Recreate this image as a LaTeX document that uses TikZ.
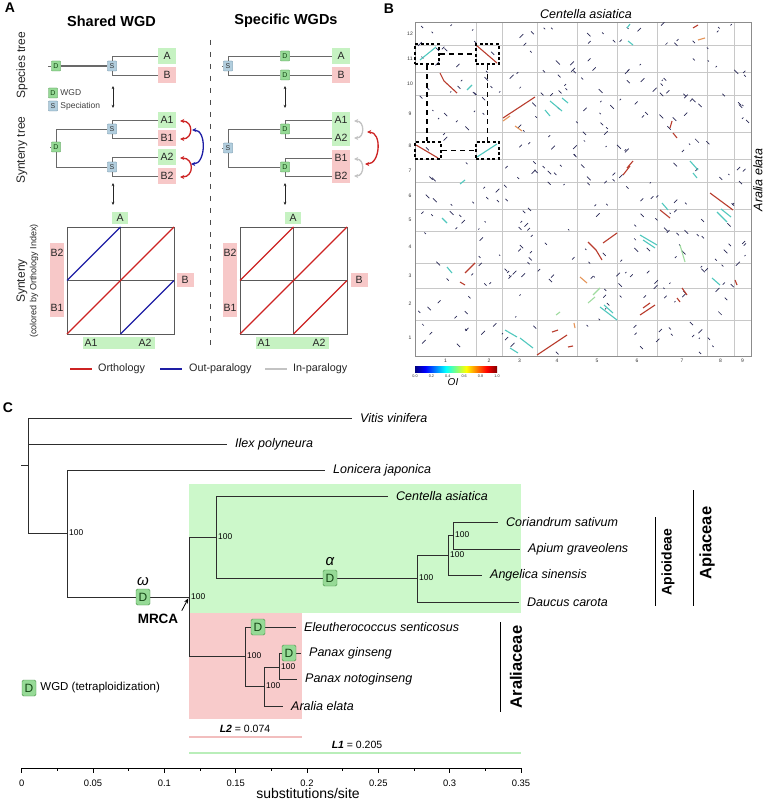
\documentclass[tikz,border=0pt]{standalone}
\usepackage{fontspec}
\setmainfont{Liberation Sans}
\usetikzlibrary{arrows.meta,calc}
\newcommand\fsz[1]{\fontsize{#1}{#1}\selectfont}
\definecolor{gbox}{RGB}{198,242,194}
\definecolor{pbox}{RGB}{247,200,200}
\definecolor{dfill}{RGB}{150,218,150}
\definecolor{dline}{RGB}{70,145,70}
\definecolor{dtext}{RGB}{20,70,20}
\definecolor{sfill}{RGB}{178,206,222}
\definecolor{sline}{RGB}{90,130,155}
\definecolor{trA}{RGB}{105,105,105}
\definecolor{trC}{RGB}{45,45,45}
\definecolor{ortho}{RGB}{205,35,35}
\definecolor{outp}{RGB}{30,30,165}
\definecolor{inp}{RGB}{195,195,195}
\definecolor{greg}{RGB}{204,248,202}
\definecolor{preg}{RGB}{248,203,203}
\definecolor{l2c}{RGB}{242,190,190}
\definecolor{l1c}{RGB}{185,238,185}
\definecolor{dotc}{RGB}{40,40,85}
\definecolor{jcy}{RGB}{80,200,190}
\definecolor{jrd}{RGB}{185,60,45}
\definecolor{jor}{RGB}{230,150,90}
\definecolor{jgr}{RGB}{160,220,160}
\definecolor{gridc}{RGB}{200,200,200}
\definecolor{j0}{RGB}{0,0,128}
\definecolor{j1}{RGB}{0,0,255}
\definecolor{j2}{RGB}{0,255,255}
\definecolor{j3}{RGB}{128,255,128}
\definecolor{j4}{RGB}{255,255,0}
\definecolor{j5}{RGB}{255,0,0}
\definecolor{j6}{RGB}{128,0,0}
\pgfdeclarehorizontalshading{jetmap}{100bp}{color(0bp)=(j0); color(25bp)=(j0); color(31.25bp)=(j1); color(43.75bp)=(j2); color(50bp)=(j3); color(56.25bp)=(j4); color(68.75bp)=(j5); color(75bp)=(j6); color(100bp)=(j6)}
\begin{document}
\begin{tikzpicture}[x=1pt,y=-1pt,
  dbx/.style={draw=dline,fill=dfill,inner sep=0pt,minimum width=9pt,minimum height=10pt,font=\fsz{7},text=dtext,rounded corners=0.6pt},
  sbx/.style={draw=sline,fill=sfill,inner sep=0pt,minimum width=9pt,minimum height=10pt,font=\fsz{7},text=black!80,rounded corners=0.6pt},
  glab/.style={fill=gbox,inner sep=0pt,minimum width=18pt,minimum height=16pt,font=\fsz{10.5},text=black!85},
  plab/.style={fill=pbox,inner sep=0pt,minimum width=18pt,minimum height=16pt,font=\fsz{10.5},text=black!85},
  tlab/.style={inner sep=0pt,minimum width=18pt,minimum height=16pt,font=\fsz{10.5},text=black!85},
  ta/.style={draw=trA,line width=0.8pt},
  tc/.style={draw=trC,line width=0.9pt},
  dbl/.style={{Stealth[length=3.2pt,width=2.8pt]}-{Stealth[length=3.2pt,width=2.8pt]},line width=0.6pt,black!85},
  arcs/.style={{Stealth[length=4pt,width=4pt]}-{Stealth[length=4pt,width=4pt]},line width=1.3pt},
  rot/.style={rotate=90,text=black!85},
  spn/.style={anchor=west,inner xsep=8pt,inner ysep=1pt,font=\fsz{12.5}\itshape},
  bts/.style={anchor=west,inner sep=2pt,font=\fsz{8.4}},
  dC/.style={draw=dline,fill=dfill,rounded corners=1.5pt,minimum width=14pt,minimum height=16pt,inner sep=0pt,font=\fsz{12},text=dtext},
  dashbx/.style={draw=black,line width=2.2pt,dash pattern=on 3pt off 2.4pt,inner sep=0pt},
  dashln/.style={draw=black,line width=1.8pt,dash pattern=on 5pt off 4pt}
]
\useasboundingbox (0,0) rectangle (764,802);
\fill[white] (0,0) rectangle (764,802);

%================ PANEL A =================
\node[font=\fsz{14}\bfseries] (lA) at (10,8) {A};
\node[font=\fsz{14.5}\bfseries] (tA1) at (111.5,21) {Shared WGD};
\node[font=\fsz{14.5}\bfseries] (tA2) at (286,21) {Specific WGDs};
\coordinate (sepT) at (210,40); \coordinate (sepB) at (210,350);
\draw[black!70,line width=0.8pt,dash pattern=on 5pt off 7pt] (sepT) -- (sepB);
\node[rot,font=\fsz{12}] (rl1) at (22,65) {Species tree};
\node[rot,font=\fsz{12}] (rl2) at (22,150) {Synteny tree};
\node[rot,font=\fsz{12}] (rl3) at (22,281) {Synteny};
\node[rot,font=\fsz{9}] (rl4) at (34,281) {(colored by Orthology Index)};

% left species tree
\coordinate (st1) at (48,66);
\node[dbx] (d1) at (56,66) {D};
\node[sbx] (s1) at (112,66) {S};
\node[glab] (a1) at (167,56) {A};
\node[plab] (b1) at (167,75) {B};
\draw[ta] (st1) -- (d1);
\draw[draw=trA,line width=1.4pt] (d1) -- (s1);
\draw[ta] (s1.north) |- (a1.west);
\draw[ta] (s1.south) |- (b1.west);
\node[dbx] (lgD) at (53,93) {D};
\node[anchor=west,font=\fsz{8.5},inner sep=2.5pt,text=black!75] (lgDt) at (lgD.east) {WGD};
\node[sbx] (lgS) at (53,106) {S};
\node[anchor=west,font=\fsz{8.5},inner sep=2.5pt,text=black!75] (lgSt) at (lgS.east) {Speciation};
\coordinate (v1a) at (113,86); \coordinate (v1b) at (113,108);
\draw[dbl] (v1a) -- (v1b);

% left synteny tree
\coordinate (st2) at (50,147);
\node[dbx] (d2) at (56,147) {D};
\node[sbx] (s2) at (112,129) {S};
\node[sbx] (s3) at (112,167) {S};
\node[glab] (ga1) at (167,120) {A1};
\node[plab] (pb1) at (167,138) {B1};
\node[glab] (ga2) at (167,157) {A2};
\node[plab] (pb2) at (167,176) {B2};
\draw[ta] (st2) -- (d2);
\draw[ta] (d2.north) |- (s2.west);
\draw[ta] (d2.south) |- (s3.west);
\draw[ta] (s2.north) |- (ga1.west);
\draw[ta] (s2.south) |- (pb1.west);
\draw[ta] (s3.north) |- (ga2.west);
\draw[ta] (s3.south) |- (pb2.west);
\draw[ortho,arcs] ($(ga1.east)+(4,1)$) to[out=0,in=0,looseness=1.9] ($(pb1.east)+(4,1)$);
\draw[ortho,arcs] ($(ga2.east)+(4,1)$) to[out=0,in=0,looseness=1.9] ($(pb2.east)+(4,1)$);
\draw[outp,arcs] ($(pb1.east)+(16,-8)$) to[out=0,in=0,looseness=1.1] ($(ga2.east)+(15,7)$);
\coordinate (v2a) at (113,183); \coordinate (v2b) at (113,205);
\draw[dbl] (v2a) -- (v2b);

% right species tree
\coordinate (st3) at (222,66);
\node[sbx] (s4) at (228,66) {S};
\node[dbx] (d4) at (285,56) {D};
\node[dbx] (d5) at (285,75) {D};
\node[glab] (ra) at (341,56) {A};
\node[plab] (rb) at (341,75) {B};
\draw[ta] (st3) -- (s4);
\draw[ta] (s4.north) |- (d4.west);
\draw[ta] (s4.south) |- (d5.west);
\draw[ta] (d4) -- (ra);
\draw[ta] (d5) -- (rb);
\coordinate (v3a) at (285,86); \coordinate (v3b) at (285,108);
\draw[dbl] (v3a) -- (v3b);

% right synteny tree
\coordinate (st4) at (222,148);
\node[sbx] (s5) at (228,148) {S};
\node[dbx] (d6) at (285,129) {D};
\node[dbx] (d7) at (285,167) {D};
\fill[gbox] (332,112) rectangle (350,146);
\fill[pbox] (332,150) rectangle (350,183);
\node[tlab] (ra1) at (341,120) {A1};
\node[tlab] (ra2) at (341,138) {A2};
\node[tlab] (rb1) at (341,158) {B1};
\node[tlab] (rb2) at (341,176) {B2};
\draw[ta] (st4) -- (s5);
\draw[ta] (s5.north) |- (d6.west);
\draw[ta] (s5.south) |- (d7.west);
\draw[ta] (d6.north) |- (ra1.west);
\draw[ta] (d6.south) |- (ra2.west);
\draw[ta] (d7.north) |- (rb1.west);
\draw[ta] (d7.south) |- (rb2.west);
\draw[inp,arcs] ($(ra1.east)+(4,1)$) to[out=0,in=0,looseness=1.6] ($(ra2.east)+(4,0)$);
\draw[inp,arcs] ($(rb1.east)+(4,1)$) to[out=0,in=0,looseness=1.6] ($(rb2.east)+(4,0)$);
\draw[ortho,arcs] ($(ra2.east)+(17,-6)$) to[out=0,in=0,looseness=1.2] ($(rb1.east)+(15,6)$);
\coordinate (v4a) at (285,183); \coordinate (v4b) at (285,205);
\draw[dbl] (v4a) -- (v4b);

% left dotplot
\fill[pbox] (50,243) rectangle (64,317);
\fill[gbox] (83,337) rectangle (155,349);
\node[fill=gbox,minimum width=16pt,minimum height=12pt,inner sep=0pt,font=\fsz{10.5},text=black!85] (dA) at (120,218) {A};
\node[fill=pbox,minimum width=17pt,minimum height=14pt,inner sep=0pt,font=\fsz{10.5},text=black!85] (dB) at (185,280) {B};
\node[font=\fsz{10.5},text=black!85] (lb2) at (57,253) {B2};
\node[font=\fsz{10.5},text=black!85] (lb1) at (57,308) {B1};
\node[font=\fsz{10.5},text=black!85] (la1) at (91,343) {A1};
\node[font=\fsz{10.5},text=black!85] (la2) at (145,343) {A2};
\node[draw=black!65,line width=0.8pt,minimum width=107pt,minimum height=107pt,inner sep=0pt,outer sep=0pt] (dp1) at (120.5,280.5) {};
\draw[black!65,line width=0.7pt] (dp1.north) -- (dp1.south);
\draw[black!65,line width=0.7pt] (dp1.west) -- (dp1.east);
\draw[outp,line width=1.3pt] (dp1.west) -- (dp1.north);
\draw[ortho,line width=1.3pt] (dp1.south west) -- (dp1.north east);
\draw[outp,line width=1.3pt] (dp1.south) -- (dp1.east);

% right dotplot
\fill[pbox] (223,243) rectangle (237,317);
\fill[gbox] (256,337) rectangle (329,349);
\node[fill=gbox,minimum width=16pt,minimum height=12pt,inner sep=0pt,font=\fsz{10.5},text=black!85] (dA2) at (293,218) {A};
\node[fill=pbox,minimum width=17pt,minimum height=14pt,inner sep=0pt,font=\fsz{10.5},text=black!85] (dB2) at (359,280) {B};
\node[font=\fsz{10.5},text=black!85] (rlb2) at (230,253) {B2};
\node[font=\fsz{10.5},text=black!85] (rlb1) at (230,308) {B1};
\node[font=\fsz{10.5},text=black!85] (rla1) at (264,343) {A1};
\node[font=\fsz{10.5},text=black!85] (rla2) at (319,343) {A2};
\node[draw=black!65,line width=0.8pt,minimum width=107pt,minimum height=107pt,inner sep=0pt,outer sep=0pt] (dp2) at (293.5,280.5) {};
\draw[black!65,line width=0.7pt] (dp2.north) -- (dp2.south);
\draw[black!65,line width=0.7pt] (dp2.west) -- (dp2.east);
\draw[ortho,line width=1.3pt] (dp2.west) -- (dp2.north);
\draw[ortho,line width=1.3pt] (dp2.south west) -- (dp2.north east);
\draw[ortho,line width=1.3pt] (dp2.south) -- (dp2.east);

% legend A
\coordinate (lg1a) at (70,369); \coordinate (lg1b) at (92,369);
\draw[ortho,line width=1.3pt] (lg1a) -- (lg1b);
\node[anchor=west,font=\fsz{10.8},text=black!85,inner sep=0pt] (lg1t) at (98,369) {Orthology};
\coordinate (lg2a) at (160,369); \coordinate (lg2b) at (182,369);
\draw[outp,line width=1.3pt] (lg2a) -- (lg2b);
\node[anchor=west,font=\fsz{10.8},text=black!85,inner sep=0pt] (lg2t) at (189,369) {Out-paralogy};
\coordinate (lg3a) at (265,369); \coordinate (lg3b) at (287,369);
\draw[inp,line width=1.3pt] (lg3a) -- (lg3b);
\node[anchor=west,font=\fsz{10.8},text=black!85,inner sep=0pt] (lg3t) at (293,369) {In-paralogy};

%================ PANEL B =================
\node[font=\fsz{14}\bfseries] (lB) at (389,9) {B};
\node[font=\fsz{12.5}\itshape] (bxl) at (586,14) {Centella asiatica};
\node[font=\fsz{12.5}\itshape,rotate=90] (byl) at (758,180) {Aralia elata};
\foreach \yy in {45,72,95,132,159,182,209,231,263,288,320}{\draw[gridc,line width=0.6pt] (415,\yy) -- (751,\yy);}
\foreach \xx in {476,502,537,577,617,657,707,734}{\draw[gridc,line width=0.6pt] (\xx,22) -- (\xx,356);}
\node[draw=black!45,line width=0.8pt,minimum width=336pt,minimum height=334pt,inner sep=0pt,outer sep=0pt] (bplot) at (583,189) {};
\foreach \v/\yy in {12/33.5,11/58.5,10/83.5,9/113.5,8/145.5,7/170.5,6/195.5,5/220,4/247,3/275.5,2/304,1/338}{\node[font=\fsz{5},text=black!80] at (410,\yy) {\v};}
\foreach \v/\xx in {1/445.5,2/489,3/519.5,4/557,5/597,6/637,7/682,8/720.5,9/742.5}{\node[font=\fsz{5},text=black!80] at (\xx,360.5) {\v};}
% random short segments
\pgfmathsetseed{11}
\foreach \i in {1,...,330}{
  \pgfmathsetmacro\xa{418+329*rnd}
  \pgfmathsetmacro\ya{25+327*rnd}
  \pgfmathsetmacro\la{1+3*rnd}
  \pgfmathsetmacro\sa{rnd<0.5?1:-1}
  \draw[dotc,line width=0.7pt] (\xa,\ya) -- ++(\la,\sa*\la);
}
% cyan
\foreach \a/\b/\c/\d in {420/60/436/47,467/90/472/85,477/157/497/144,550/101/562/111,562/98/568/103,545/110/550/116,628/41/633/45,690/161/698/170,693/173/697/178,442/218/447/223,447/267/452/273,505/330/517/337,520/338/533/348,510/348/518/353,640/235/657/245,643/240/655/248,662/203/668/210,717/212/727/222,721/209/731/217,600/307/617/320,604/305/613/313,712/278/720/285,460/184/465/180,627/28/630/24}
  {\draw[jcy,line width=1.1pt] (\a,\b) -- (\c,\d);}
% red
\foreach \a/\b/\c/\d in {476/45/497/63,503/118/535/97,416/145/438/158,465/273/475/263,460/282/465/285,537/355/567/335,552/332/558/330,568/347/573/346,603/243/617/233,660/210/670/218,710/193/733/210,640/315/655/305,643/308/650/303,682/288/687/295,677/298/680/302,735/280/737/285,670/128/672/121,673/133/677/138,627/168/633/161,623/175/630/166,693/28/698/25}
  {\draw[jrd,line width=1.1pt] (\a,\b) -- (\c,\d);}
\draw[jrd,line width=1.1pt] (440,73) -- (444,81) -- (457,93);
\draw[jrd,line width=1.1pt] (588,242) -- (596,250) -- (602,260);
% orange / green
\foreach \a/\b/\c/\d in {515/126/522/131,580/277/587/283,698/40/705/38,503/121/510/116,574/323/575/328}
  {\draw[jor,line width=1.1pt] (\a,\b) -- (\c,\d);}
\foreach \a/\b/\c/\d in {680/245/685/262,593/295/600/288,588/303/595/297,556/315/560/312}
  {\draw[jgr,line width=1.1pt] (\a,\b) -- (\c,\d);}
% dashed boxes
\node[dashbx,minimum width=24pt,minimum height=20pt] (bx1) at (427,54) {};
\node[dashbx,minimum width=23pt,minimum height=20pt] (bx2) at (487.5,54) {};
\node[dashbx,minimum width=26pt,minimum height=17pt] (bx3) at (428,150.5) {};
\node[dashbx,minimum width=23pt,minimum height=17pt] (bx4) at (487.5,150.5) {};
\draw[dashln] (bx1.east) -- (bx2.west);
\draw[dashln] (bx3.east) -- (bx4.west);
\draw[dashln] (bx1.south) -- (bx1.south |- bx3.north);
\draw[dashln] (bx2.south) -- (bx2.south |- bx4.north);
% colorbar
\shade[shading=jetmap] (415,366) rectangle (497,372);
\foreach \v [count=\i from 0] in {0.0,0.2,0.4,0.6,0.8,1.0}{\node[font=\fsz{3.8},text=black!80] at (415+16.4*\i,376) {\v};}
\node[font=\fsz{10}\itshape] (oil) at (453,382) {OI};

%================ PANEL C =================
\node[font=\fsz{14}\bfseries] (lC) at (8,408) {C};
\fill[greg] (189,484) rectangle (521,613);
\fill[preg] (189,613) rectangle (302,719);
\coordinate (rstub) at (21,465);
\coordinate (root) at (28,465);
\node[spn] (vit) at (352,418) {Vitis vinifera};
\node[spn] (ilx) at (227,444) {Ilex polyneura};
\node[spn] (lon) at (325,470) {Lonicera japonica};
\coordinate (n1) at (67,533);
\coordinate (mr) at (189,597);
\coordinate (ap) at (216,537);
\node[spn] (cen) at (388,496) {Centella asiatica};
\coordinate (n3) at (417,578);
\node[spn] (dau) at (519,602) {Daucus carota};
\coordinate (n4) at (448,555);
\node[spn] (ang) at (482,575) {Angelica sinensis};
\coordinate (n5) at (453,535);
\node[spn] (cor) at (498,522) {Coriandrum sativum};
\node[spn] (api) at (520,549) {Apium graveolens};
\coordinate (ar) at (245,656);
\node[spn] (ele) at (296,627) {Eleutherococcus senticosus};
\coordinate (n6) at (264,686);
\coordinate (n7) at (279,667);
\node[spn] (pg) at (301,653) {Panax ginseng};
\node[spn] (pn) at (297,679) {Panax notoginseng};
\node[spn] (are) at (283,706) {Aralia elata};
\draw[tc] (rstub) -- (root);
\draw[tc] (root) |- (vit.west);
\draw[tc] (root |- ilx.west) -- (ilx.west);
\draw[tc] (root) |- (n1);
\draw[tc] (n1) |- (lon.west);
\draw[tc] (n1) |- (mr);
\draw[tc] (mr) |- (ap);
\draw[tc] (mr) |- (ar);
\draw[tc] (ap) |- (cen.west);
\draw[tc] (ap) |- (n3);
\draw[tc] (n3) |- (dau.west);
\draw[tc] (n3) |- (n4);
\draw[tc] (n4) |- (ang.west);
\draw[tc] (n4) |- (n5);
\draw[tc] (n5) |- (cor.west);
\draw[tc] (n5) |- (api.west);
\draw[tc] (ar) |- (ele.west);
\draw[tc] (ar) |- (n6);
\draw[tc] (n6) |- (n7);
\draw[tc] (n6) |- (are.west);
\draw[tc] (n7) |- (pg.west);
\draw[tc] (n7) |- (pn.west);
\node[bts] (bs1) at (n1) {100};
\node[bts] (bs2) at (mr) {100};
\node[bts] (bs3) at (ap) {100};
\node[bts] (bs4) at (n3) {100};
\node[bts] (bs5) at (n4) {100};
\node[bts] (bs6) at (n5) {100};
\node[bts] (bs7) at (ar) {100};
\node[bts] (bs8) at (n6) {100};
\node[bts] (bs9) at (n7) {100};
\node[dC] (dw) at (143,597) {D};
\node[font=\fsz{15}\itshape] (wl) at (143,582) {ω};
\node[dC] (dal) at (330,578) {D};
\node[font=\fsz{15}\itshape] (al) at (330,562) {α};
\node[dC] (de) at (258,627) {D};
\node[dC] (dpg) at (289,653) {D};
\node[font=\fsz{13.5}\bfseries] (mrl) at (158,619) {MRCA};
\draw[-{Stealth[length=5pt,width=4pt]},line width=0.8pt,shorten >=1.5pt] (mrl.north east) -- (mr);
% clade bars
\coordinate (c1t) at (655,517); \coordinate (c1b) at (655,606);
\draw[line width=0.9pt] (c1t) -- (c1b);
\node[rotate=90,font=\fsz{14}\bfseries] (apio) at (668,562) {Apioideae};
\coordinate (c2t) at (693,490); \coordinate (c2b) at (693,606);
\draw[line width=0.9pt] (c2t) -- (c2b);
\node[rotate=90,font=\fsz{16.5}\bfseries] (apia) at (707,543) {Apiaceae};
\coordinate (c3t) at (500,622); \coordinate (c3b) at (500,712);
\draw[line width=0.9pt] (c3t) -- (c3b);
\node[rotate=90,font=\fsz{16.5}\bfseries] (aral) at (516,667) {Araliaceae};
% legend C
\node[dC] (lgd) at (29,688) {D};
\node[anchor=west,font=\fsz{11.5},inner sep=4pt] (lgdt) at (lgd.east) {WGD (tetraploidization)};
% L1 L2
\coordinate (l2a) at (189,737); \coordinate (l2b) at (302,737);
\draw[l2c,line width=2.2pt] (l2a) -- (l2b);
\node[font=\fsz{10.5}] (l2t) at (245,729) {\textbf{\textit{L2}} = 0.074};
\coordinate (l1a) at (189,753); \coordinate (l1b) at (521,753);
\draw[l1c,line width=2.2pt] (l1a) -- (l1b);
\node[font=\fsz{10.5}] (l1t) at (357,745) {\textbf{\textit{L1}} = 0.205};
% axis
\coordinate (ax0) at (21.7,768); \coordinate (ax1) at (521,768);
\draw[line width=0.8pt] (ax0) -- (ax1);
\foreach \v [count=\i from 0] in {0,0.05,0.1,0.15,0.2,0.25,0.3,0.35}{
  \draw[line width=0.8pt] (21.7+71.33*\i,768) -- ++(0,5);
  \node[font=\fsz{9.4}] at (21.7+71.33*\i,783) {\v};
}
\foreach \i in {0,...,6}{\draw[line width=0.6pt] (57.37+71.33*\i,768) -- ++(0,3);}
\node[font=\fsz{14}] (axl) at (308,793.5) {substitutions/site};
\end{tikzpicture}
\end{document}
